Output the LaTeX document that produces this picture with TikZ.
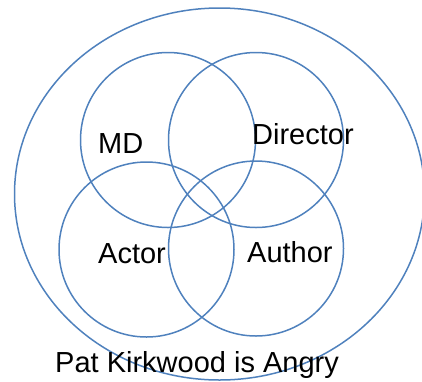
\documentclass[tikz,border=0pt]{standalone}
\usepackage{fontspec}
\setmainfont{Liberation Sans}
\definecolor{ringblue}{RGB}{79,129,189}
\begin{document}
\begin{tikzpicture}[x=1pt,y=-1pt,
  ring/.style={draw=ringblue,line width=1.5pt},
  lbl/.style={inner sep=0pt,anchor=base west,font=\fontsize{29}{31}\selectfont,text=black}]
\useasboundingbox (0,0) rectangle (422,381);
\begin{scope}
\clip (0,0) rectangle (422,381);
\draw[ring] (219.5,194) ellipse [x radius=205, y radius=186];
\end{scope}
\draw[ring] (168,140) circle [radius=87.5];
\draw[ring] (256,140) circle [radius=87.5];
\draw[ring] (146.5,249.5) circle [radius=87.5];
\draw[ring] (256,248.5) circle [radius=87.5];
\node[lbl] (md) at (98,153) {MD};
\node[lbl] (dir) at (252,144) {Director};
\node[lbl] (act) at (98,263) {Actor};
\node[lbl] (aut) at (247,262) {Author};
\node[lbl] (pat) at (55,372) {Pat Kirkwood is Angry};
\end{tikzpicture}
\end{document}
